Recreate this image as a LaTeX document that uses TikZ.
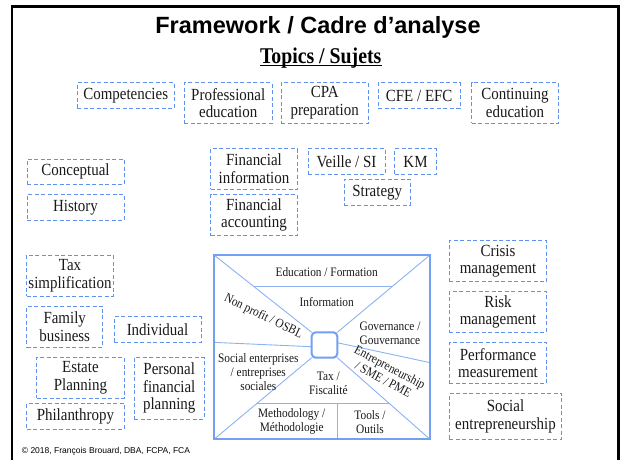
\documentclass[tikz,border=0pt]{standalone}
\usepackage{fontspec}
\setmainfont{Liberation Serif}[FakeStretch=0.88]
\newfontfamily\arialfont{Liberation Sans}
\usetikzlibrary{calc,backgrounds}
\definecolor{dashblue}{RGB}{95,145,240}
\definecolor{sqblue}{RGB}{115,160,240}
\definecolor{lineblue}{RGB}{140,178,242}
\definecolor{txt}{RGB}{25,25,25}
\begin{document}
\begin{tikzpicture}[x=1pt,y=-1pt,
  topic/.style={draw=dashblue, dash pattern=on 4pt off 2.5pt, line width=1pt,
    align=center, inner sep=0pt, text=txt, font=\fontsize{17}{17.7}\selectfont},
  intxt/.style={align=center, inner sep=0pt, text=txt, font=\fontsize{12.9}{14}\selectfont},
  inline/.style={draw=lineblue, line width=0.9pt}]
\useasboundingbox (0,0) rectangle (621,459);
% outer frame
\coordinate (fbl) at (12.2,475);
\coordinate (ftl) at (12.2,6.5);
\coordinate (ftr) at (618.5,6.5);
\coordinate (fbr) at (618.5,475);
\draw[line width=2.3pt] (fbl) -- (ftl) -- (ftr) -- (fbr);
% titles
\node[anchor=base, inner sep=0pt, font=\arialfont\bfseries\fontsize{23.5}{27}\selectfont] (title) at (318,33) {Framework / Cadre d’analyse};
\node[anchor=base, inner sep=0pt, font=\bfseries\fontsize{22.5}{24}\selectfont] (topics) at (320.7,63) {Topics / Sujets};
\draw[line width=1.3pt] ([yshift=-2.8pt]topics.base west) -- ([yshift=-2.8pt]topics.base east);
% row 1
\node[topic, minimum width=96.7pt, minimum height=25.6pt] (comp) at (125.7,95.5) {Competencies};
\node[topic, minimum width=87.7pt, minimum height=40.6pt] (prof) at (228.2,103) {Professional\\education};
\node[topic, minimum width=87.3pt, minimum height=40.6pt] (cpa) at (324.7,103) {CPA\\preparation};
\node[topic, minimum width=81.7pt, minimum height=25.6pt] (cfe) at (419.2,95.5) {CFE / EFC};
\node[topic, minimum width=87pt, minimum height=40.6pt] (cont) at (515,103) {Continuing\\education};
% middle
\node[topic, minimum width=97pt, minimum height=25pt] (concept) at (75.5,171.5) {Conceptual};
\node[topic, minimum width=97pt, minimum height=25.7pt] (history) at (75.5,207.2) {History};
\node[topic, minimum width=86.7pt, minimum height=40.6pt] (fininfo) at (254,169) {Financial\\information};
\node[topic, minimum width=86.7pt, minimum height=41.4pt] (finacc) at (254,215) {Financial\\accounting};
\node[topic, minimum width=77pt, minimum height=25.6pt] (veille) at (346.5,161.5) {Veille / SI};
\node[topic, minimum width=41.4pt, minimum height=25.6pt] (km) at (415.5,161.5) {KM};
\node[topic, minimum width=66.3pt, minimum height=25.7pt] (strat) at (377.2,192.2) {Strategy};
% left column
\node[topic, minimum width=86.6pt, minimum height=41pt] (taxs) at (70,275.5) {Tax\\simplification};
\node[topic, minimum width=76pt, minimum height=41.3pt] (family) at (64.7,326.7) {Family\\business};
\node[topic, minimum width=87pt, minimum height=25.6pt] (indiv) at (157.5,329.5) {Individual};
\node[topic, minimum width=87.3pt, minimum height=41pt] (estate) at (80.4,377.8) {Estate\\Planning};
\node[topic, minimum width=97.3pt, minimum height=25.7pt] (phil) at (75.4,416.2) {Philanthropy};
\node[topic, minimum width=69.7pt, minimum height=61.7pt] (pfp) at (169.2,388.2) {Personal\\financial\\planning};
% right column
\node[topic, minimum width=97.4pt, minimum height=41pt] (crisis) at (498,261.2) {Crisis\\management};
\node[topic, minimum width=97.4pt, minimum height=40.3pt] (risk) at (498,311.9) {Risk\\management};
\node[topic, minimum width=97.4pt, minimum height=40.6pt] (perf) at (498,363) {Performance\\measurement};
\node[topic, minimum width=112.4pt, minimum height=46pt] (social) at (505.5,416.3) {Social\\entrepreneurship};
% central square
\node[draw=sqblue, line width=2pt, outer sep=0pt, inner sep=0pt, minimum width=216pt, minimum height=184.3pt] (sq) at (322,347.15) {};
\node[draw=sqblue, fill=white, line width=2pt, rounded corners=4pt, outer sep=0pt, inner sep=0pt, minimum width=25.6pt, minimum height=25.4pt] (hub) at (324.5,345) {};
\begin{pgfonlayer}{background}
\draw[inline] (sq.north west) -- (hub.north west);
\draw[inline] (sq.north east) -- (hub.north east);
\draw[inline] (sq.south west) -- (hub.south west);
\draw[inline] (sq.south east) -- (hub.south east);
\coordinate (tl) at ($(sq.north west)!0.41!(hub.north west)$);
\coordinate (tr) at ($(sq.north east)!0.41!(hub.north east)$);
\draw[inline] (tl) -- (tr);
\coordinate (bl) at ($(sq.south west)!0.441!(hub.south west)$);
\coordinate (br) at ($(sq.south east)!0.441!(hub.south east)$);
\draw[inline] (bl) -- (br);
\draw[inline] (bl -| hub.east) -- (hub.east |- sq.south);
\draw[inline] ($(sq.north west)!0.474!(sq.south west)$) -- ($(hub.north west)!0.567!(hub.south west)$);
\draw[inline] ($(hub.north east)!0.41!(hub.south east)$) -- ($(sq.north east)!0.584!(sq.south east)$);
\end{pgfonlayer}
% central texts
\node[intxt] (edu) at (326.7,271.7) {Education / Formation};
\node[intxt] (info) at (326.7,302.3) {Information};
\node[intxt, rotate=-26] (nonprofit) at (263.3,316.7) {Non profit / OSBL};
\node[intxt] (gov) at (390,333) {Governance /\\Gouvernance};
\node[intxt, rotate=-28] (entre) at (386.7,373.3) {Entrepreneurship\\/ SME / PME};
\node[intxt] (socent) at (258.3,371.7) {Social enterprises\\/ entreprises\\sociales};
\node[intxt] (tax) at (328.3,383) {Tax /\\Fiscalité};
\node[intxt] (meth) at (291.7,421.7) {Methodology /\\Méthodologie};
\node[intxt] (tools) at (370,421.7) {Tools /\\Outils};
% copyright
\node[anchor=base west, inner sep=0pt, font=\arialfont\fontsize{8.5}{10}\selectfont] (copy) at (21.7,453.3) {© 2018, François Brouard, DBA, FCPA, FCA};
\end{tikzpicture}
\end{document}
